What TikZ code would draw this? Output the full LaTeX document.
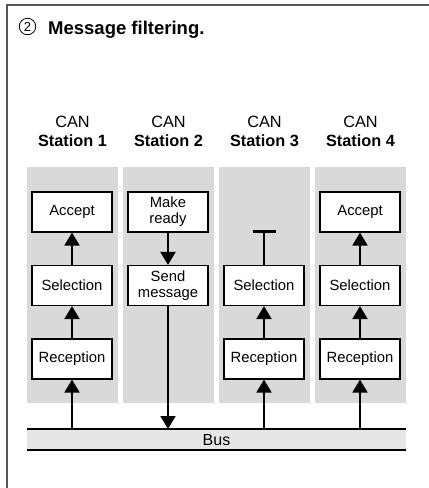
\documentclass[tikz,border=0pt]{standalone}
\usepackage{fontspec}
\setmainfont{Liberation Sans}
\usetikzlibrary{arrows.meta}
\definecolor{colgray}{RGB}{217,217,217}
\definecolor{busgray}{RGB}{230,230,230}
\definecolor{framegray}{RGB}{85,85,85}
\tikzset{
  stationbg/.style={fill=colgray, draw=none},
  procbox/.style={draw=black, fill=white, line width=1.1pt, minimum width=80pt, minimum height=40pt, inner sep=1pt, align=center, font=\fontsize{14.8}{16}\selectfont},
  flow/.style={line width=2pt, -{Triangle[width=15pt,length=13pt]}},
  plainline/.style={line width=2pt},
  stalabel/.style={align=center, font=\fontsize{16.3}{19}\selectfont},
}
\begin{document}
\begin{tikzpicture}[x=1pt,y=-1pt]
\useasboundingbox (0,0) rectangle (429,488);
% frame
\draw[framegray, line width=1.5pt] (7,488) -- (7,5) -- (429,5);
% title
\node[draw, circle, line width=0.8pt, minimum size=16.5pt, inner sep=0pt, font=\fontsize{13}{13}\selectfont] (circ) at (27.5,26.5) {2};
\node[anchor=base west, inner sep=0pt, font=\bfseries\fontsize{18.5}{20}\selectfont] (title) at (48,34) {Message filtering.};
% station backgrounds
\foreach \cx/\n in {72.5/1,168.5/2,264.5/3,360.5/4}{
  \fill[colgray] (\cx-45.5,167) rectangle (\cx+45.5,403);
  \node[stalabel] (lab\n) at (\cx,131) {CAN\\\textbf{Station \n}};
}
% bus
\fill[busgray] (27,429) rectangle (406,450);
\draw[line width=1.3pt] (27,429) -- (406,429);
\draw[line width=1.3pt] (27,450) -- (406,450);
\node[font=\fontsize{16}{16}\selectfont] (bus) at (216.5,440) {Bus};
\coordinate (b1) at (72,429);
\coordinate (b2) at (168,429);
\coordinate (b3) at (264,429);
\coordinate (b4) at (360,429);
% station 1
\node[procbox] (acc1) at (72,212) {Accept};
\node[procbox] (sel1) at (72,285.5) {Selection};
\node[procbox] (rec1) at (72,359) {Reception};
% station 2
\node[procbox] (mk2) at (168,212) {Make\\ready};
\node[procbox] (snd2) at (168,285.5) {Send\\message};
% station 3
\node[procbox] (sel3) at (264,285.5) {Selection};
\node[procbox] (rec3) at (264,359) {Reception};
\coordinate (t3) at (264,231.5);
% station 4
\node[procbox] (acc4) at (360,212) {Accept};
\node[procbox] (sel4) at (360,285.5) {Selection};
\node[procbox] (rec4) at (360,359) {Reception};
% connectors
\draw[flow] (b1) -- (rec1.south);
\draw[flow] (rec1.north) -- (sel1.south);
\draw[flow] (sel1.north) -- (acc1.south);
\draw[flow] (mk2.south) -- (snd2.north);
\draw[flow] (snd2.south) -- (b2);
\draw[flow] (b3) -- (rec3.south);
\draw[flow] (rec3.north) -- (sel3.south);
\draw[plainline] (sel3.north) -- (t3);
\draw[line width=3.5pt] ([xshift=-11.5pt]t3) -- ([xshift=11.5pt]t3);
\draw[flow] (b4) -- (rec4.south);
\draw[flow] (rec4.north) -- (sel4.south);
\draw[flow] (sel4.north) -- (acc4.south);
\end{tikzpicture}
\end{document}
